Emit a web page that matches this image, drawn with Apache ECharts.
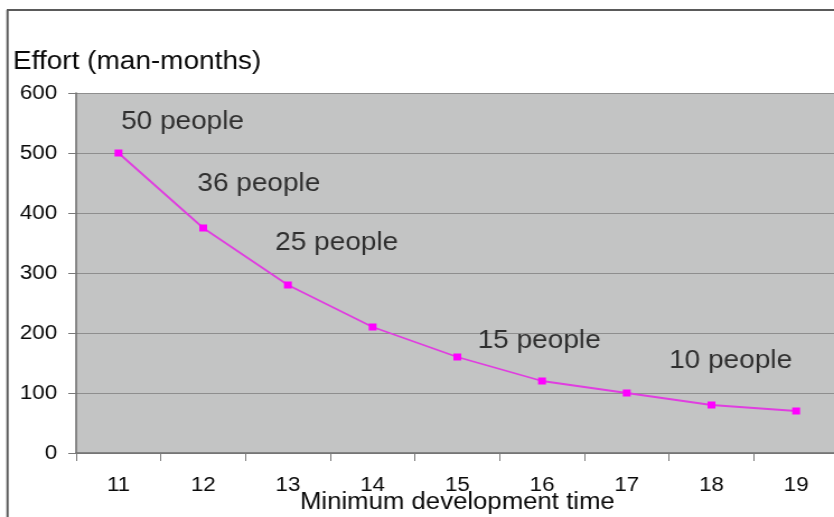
<!DOCTYPE html>
<html>
<head>
<meta charset="utf-8">
<script src="https://cdn.jsdelivr.net/npm/echarts@6/dist/echarts.min.js"></script>
<style>
  html, body { margin: 0; padding: 0; background: #ffffff; overflow: hidden; }
  #wrap { width: 834px; height: 517px; overflow: hidden; position: relative; }
  /* chart is laid out narrower and stretched horizontally to the full width */
  #chart { width: 745px; height: 517px; transform: scaleX(1.1195); transform-origin: 0 0; }
</style>
</head>
<body>
<div id="wrap"><div id="chart"></div></div>
<script>
// Category axis: minimum development time
const categories = ['11', '12', '13', '14', '15', '16', '17', '18', '19'];
// Effort in man-months for each development time
const effort = [500, 375, 280, 210, 160, 120, 100, 80, 70];
// Y axis range and step
const yTicks = { min: 0, max: 600, interval: 100 };
// Team-size annotations: [x position on a continuous 11..19 scale, effort level]
const teamLabels = ['50 people', '36 people', '25 people', '15 people', '10 people'];
const teamLabelX = [11.03, 11.93, 12.85, 15.24, 17.5];
const teamLabelY = [552, 448, 350, 186, 153];

const FONT = 'Liberation Sans, Arial, sans-serif';
const INK = '#0a0a0a';
const chart = echarts.init(document.getElementById('chart'), null, { renderer: 'canvas' });

chart.setOption({
  backgroundColor: '#ffffff',
  animation: false,
  title: {
    text: 'Effort (man-months)',
    left: 11.6,
    top: 49.5,
    padding: 0,
    textStyle: { fontFamily: FONT, fontSize: 25, fontWeight: 'normal', color: INK }
  },
  graphic: [
    { type: 'line', shape: { x1: 6.7, y1: 10, x2: 6.7, y2: 517 }, style: { stroke: '#5a5a5a', lineWidth: 2 } },
    { type: 'line', shape: { x1: 6, y1: 10, x2: 745, y2: 10 }, style: { stroke: '#5a5a5a', lineWidth: 2 } }
  ],
  grid: {
    left: 68, top: 93, width: 681, height: 360,
    outerBoundsMode: 'none',
    containLabel: false,
    show: true, backgroundColor: '#c3c4c4', borderWidth: 0
  },
  xAxis: [{
    type: 'category',
    data: categories,
    boundaryGap: true,
    name: 'Minimum development time',
    nameLocation: 'middle',
    nameGap: 38,
    nameMoveOverlap: false,
    nameTextStyle: { fontFamily: FONT, fontSize: 23, color: INK },
    axisLine: { show: true, lineStyle: { color: '#6e6e6e', width: 1.5 } },
    axisTick: { show: true, length: 8, lineStyle: { color: '#7a7a7a' } },
    axisLabel: { fontFamily: FONT, fontSize: 20, color: INK, margin: 22 },
    splitLine: { show: false }
  }, {
    type: 'value',
    min: 10.5, max: 19.5,
    show: false
  }],
  yAxis: {
    type: 'value',
    min: yTicks.min, max: yTicks.max, interval: yTicks.interval,
    axisLine: { show: true, lineStyle: { color: '#6e6e6e', width: 1.5 } },
    axisTick: { show: true, length: 7, lineStyle: { color: '#7a7a7a' } },
    axisLabel: { fontFamily: FONT, fontSize: 20, color: INK, margin: 17 },
    splitLine: { show: true, lineStyle: { color: '#8e8e8e', width: 1 } }
  },
  series: [{
    type: 'line',
    data: effort,
    xAxisIndex: 0,
    symbol: 'rect',
    symbolSize: 7,
    lineStyle: { color: '#e03ee0', width: 1.8 },
    itemStyle: { color: '#ff00ff' },
    z: 3
  }, {
    type: 'scatter',
    xAxisIndex: 1,
    symbolSize: 0.1,
    itemStyle: { color: 'rgba(0,0,0,0)' },
    data: teamLabels.map((t, i) => ({ name: t, value: [teamLabelX[i], teamLabelY[i]] })),
    label: {
      show: true,
      position: 'right',
      distance: 0,
      formatter: p => p.name,
      fontFamily: FONT,
      fontSize: 25,
      color: INK
    },
    silent: true,
    z: 4
  }]
});
</script>
</body>
</html>
